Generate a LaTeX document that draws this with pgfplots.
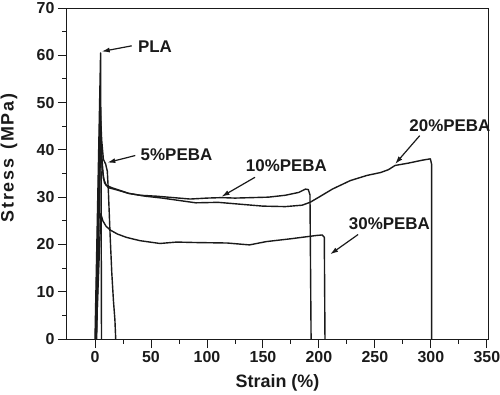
\documentclass[border=0pt]{standalone}
\usepackage{fontspec}
\setmainfont{Liberation Sans}
\usepackage{pgfplots}
\pgfplotsset{compat=1.18}
\usetikzlibrary{arrows.meta}
\definecolor{ink}{HTML}{1A1A1A}
\begin{document}
\begin{tikzpicture}
\path[use as bounding box] (-67bp,-56bp) rectangle (433bp,339bp);
\begin{axis}[
  at={(0,0)}, anchor=south west,
  scale only axis, width=421bp, height=331bp,
  xmin=-25, xmax=351, ymin=0, ymax=70,
  xtick={0,50,...,350}, ytick={0,10,...,70},
  minor x tick num=1, minor y tick num=1,
  tick align=outside, tick pos=left,
  major tick length=9bp, minor tick length=4.5bp,
  every tick/.style={ink, line width=0.9bp},
  axis line style={ink, line width=1bp},
  /pgf/number format/assume math mode=true,
  ticklabel style={font=\fontsize{16}{16}\selectfont\bfseries, text=ink},
  xlabel={Strain (\%)},
  ylabel={\addfontfeature{LetterSpace=10}Stress\hspace{9bp}(MPa)},
  label style={font=\fontsize{18}{18}\selectfont\bfseries, text=ink},
  xlabel style={at={(axis description cs:0.5,-0.133)}, anchor=center},
  ylabel style={at={(axis description cs:-0.138,0.547)}, anchor=center},
  every axis plot post/.append style={ink, mark=none, line width=1.4bp, line join=round},
  clip=false,
]
% PLA
\addplot coordinates {(0,0) (5,60.5) (5.5,30) (5.8,0)};
% 5% PEBA
\addplot coordinates {(0.5,0) (4.6,49) (6,42) (7.5,38) (9.5,37) (11,35.5) (12,31) (13.5,22) (15,14) (16.5,8) (17.8,4) (18.5,0)};
% 10% PEBA
\addplot coordinates {(1,0) (4.8,46) (6,39) (7.5,34) (10,32.5) (15,32) (20,31.6) (30,30.8) (40,30.4) (55,30.2) (70,29.9) (85,29.6) (100,29.8) (113,29.9) (125,29.8) (140,29.9) (155,30.0) (170,30.4) (182,31.0) (188,31.7) (190.5,31.6) (192,30.5) (193,0)};
% 20% PEBA
\addplot coordinates {(1.5,0) (5,42) (6.5,36) (8.5,33) (12,32) (20,31.5) (30,30.8) (45,30.2) (60,29.8) (75,29.3) (90,28.8) (110,28.9) (130,28.5) (150,28.1) (170,28.0) (185,28.3) (192,28.9) (200,30.0) (212,31.7) (228,33.5) (243,34.6) (255,35.2) (262,35.8) (268,36.7) (280,37.2) (292,37.8) (299.5,38.1) (300.6,37) (300.7,0)};
% 30% PEBA
\addplot coordinates {(1,0) (5.2,26.5) (7,25) (10,23.8) (14,23.0) (20,22.2) (28,21.5) (40,20.8) (58,20.2) (73,20.5) (90,20.4) (118,20.3) (138,19.9) (153,20.6) (175,21.2) (198,21.9) (203,22) (204.8,21.5) (205.4,0)};
% annotations
\begin{scope}[font=\fontsize{17}{17}\selectfont\bfseries, text=ink]
\node at (axis cs:53.6,61.9) {PLA};
\draw[ink, line width=1.2bp, -{Latex[length=8bp,width=5bp]}] (axis cs:32.8,62) -- (axis cs:6,60.8);
\node at (axis cs:72.8,38.9) {5\%PEBA};
\draw[ink, line width=1.2bp, -{Latex[length=8bp,width=5bp]}] (axis cs:36,38.8) -- (axis cs:11,37.3);
\node at (axis cs:171,36.7) {10\%PEBA};
\draw[ink, line width=1.2bp, -{Latex[length=8bp,width=5bp]}] (axis cs:142.9,34.2) -- (axis cs:113,30.1);
\node at (axis cs:317,45.1) {20\%PEBA};
\draw[ink, line width=1.2bp, -{Latex[length=8bp,width=5bp]}] (axis cs:290,43) -- (axis cs:268,37);
\node at (axis cs:263,24.3) {30\%PEBA};
\draw[ink, line width=1.2bp, -{Latex[length=8bp,width=5bp]}] (axis cs:235,22.1) -- (axis cs:210,17.9);
\end{scope}
\end{axis}
\end{tikzpicture}
\end{document}
